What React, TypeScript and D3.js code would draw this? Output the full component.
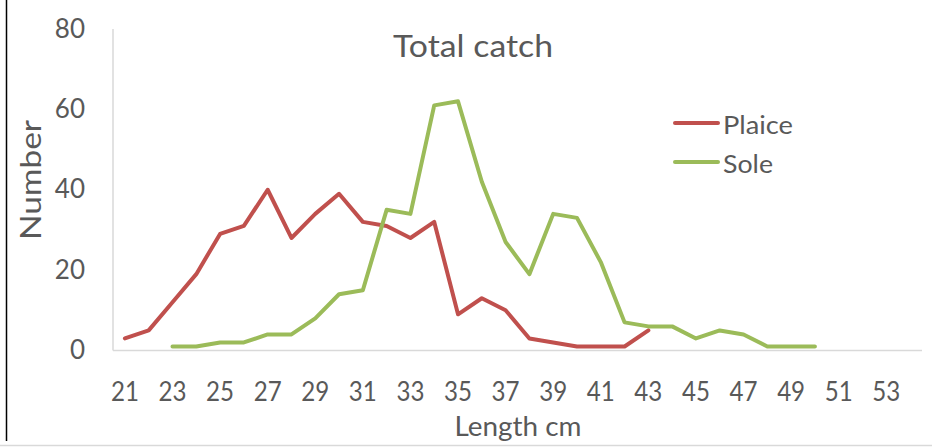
import React, { useEffect, useRef } from 'react';
import * as d3 from 'd3';

const lengths = [21, 22, 23, 24, 25, 26, 27, 28, 29, 30, 31, 32, 33, 34, 35, 36, 37, 38, 39, 40, 41, 42, 43, 44, 45, 46, 47, 48, 49, 50, 51, 52, 53, 54];
const plaiceStart = 21;
const plaice = [3, 5, 12, 19, 29, 31, 40, 28, 34, 39, 32, 31, 28, 32, 9, 13, 10, 3, 2, 1, 1, 1, 5];
const soleStart = 23;
const sole = [1, 1, 2, 2, 4, 4, 8, 14, 15, 35, 34, 61, 62, 42, 27, 19, 34, 33, 22, 7, 6, 6, 3, 5, 4, 1, 1, 1];
const yTicks = [0, 20, 40, 60, 80];

const series = [
  { name: 'Plaice', start: plaiceStart, values: plaice, color: '#c0504d', labelWidth: 70 },
  { name: 'Sole', start: soleStart, values: sole, color: '#9bbb59', labelWidth: 50 },
];

const width = 932;
const height = 448;
const textColor = '#595959';
const font = 'Lato, "Open Sans", sans-serif';

const App: React.FC = () => {
  const svgRef = useRef<SVGSVGElement>(null);

  useEffect(() => {
    if (!svgRef.current) return;
    const svg = d3.select(svgRef.current);
    svg.selectAll('*').remove();

    const plot = { left: 113, right: 922, top: 29, bottom: 350.5 };

    const x = d3.scaleBand<number>()
      .domain(lengths)
      .range([plot.left, plot.right]);
    const cx = (d: number) => (x(d) as number) + x.bandwidth() / 2;

    const y = d3.scaleLinear()
      .domain([0, 80])
      .range([plot.bottom, plot.top]);

    svg.append('rect').attr('width', width).attr('height', height).attr('fill', '#fff');

    // edges of the original screenshot
    svg.append('line')
      .attr('x1', 6.5).attr('x2', 6.5).attr('y1', 0).attr('y2', 441)
      .attr('stroke', '#000').attr('stroke-width', 1.5);
    svg.append('line')
      .attr('x1', 0).attr('x2', width).attr('y1', 445.5).attr('y2', 445.5)
      .attr('stroke', '#d9d9d9').attr('stroke-width', 1.5);

    // axis lines
    svg.append('line')
      .attr('x1', plot.left).attr('x2', plot.left)
      .attr('y1', plot.top).attr('y2', plot.bottom)
      .attr('stroke', '#d9d9d9').attr('stroke-width', 1.5);
    svg.append('line')
      .attr('x1', plot.left).attr('x2', plot.right)
      .attr('y1', plot.bottom).attr('y2', plot.bottom)
      .attr('stroke', '#d9d9d9').attr('stroke-width', 1.5);

    // y tick labels
    svg.append('g')
      .selectAll('text')
      .data(yTicks)
      .enter()
      .append('text')
      .attr('x', 85)
      .attr('y', d => y(d))
      .attr('dy', '0.33em')
      .attr('text-anchor', 'end')
      .attr('font-size', 26)
      .attr('fill', textColor)
      .text(d => d);

    // x tick labels, every other category
    svg.append('g')
      .selectAll('text')
      .data(lengths.filter((_, i) => i % 2 === 0))
      .enter()
      .append('text')
      .attr('x', d => cx(d))
      .attr('y', 401)
      .attr('text-anchor', 'middle')
      .attr('font-size', 27)
      .attr('textLength', 28)
      .attr('lengthAdjust', 'spacingAndGlyphs')
      .attr('fill', textColor)
      .text(d => d);

    // axis titles
    svg.append('text')
      .attr('x', 518)
      .attr('y', 436)
      .attr('text-anchor', 'middle')
      .attr('font-size', 27)
      .attr('textLength', 127)
      .attr('lengthAdjust', 'spacingAndGlyphs')
      .attr('fill', textColor)
      .text('Length cm');

    svg.append('text')
      .attr('transform', 'translate(41,180) rotate(-90)')
      .attr('text-anchor', 'middle')
      .attr('font-size', 28)
      .attr('textLength', 120)
      .attr('lengthAdjust', 'spacingAndGlyphs')
      .attr('fill', textColor)
      .text('Number');

    // title
    svg.append('text')
      .attr('x', 473)
      .attr('y', 57)
      .attr('text-anchor', 'middle')
      .attr('font-size', 31)
      .attr('textLength', 160)
      .attr('lengthAdjust', 'spacingAndGlyphs')
      .attr('fill', textColor)
      .text('Total catch');

    // series lines
    series.forEach(s => {
      const pts = s.values.map((v, i) => [cx(s.start + i), y(v)] as [number, number]);
      svg.append('path')
        .datum(pts)
        .attr('fill', 'none')
        .attr('stroke', s.color)
        .attr('stroke-width', 4)
        .attr('stroke-linejoin', 'round')
        .attr('stroke-linecap', 'round')
        .attr('d', d3.line());
    });

    // legend
    const legend = svg.append('g');
    series.forEach((s, i) => {
      const ly = 123 + i * 39;
      legend.append('line')
        .attr('x1', 675).attr('x2', 718)
        .attr('y1', ly).attr('y2', ly)
        .attr('stroke', s.color)
        .attr('stroke-width', 4)
        .attr('stroke-linecap', 'round');
      legend.append('text')
        .attr('x', 723)
        .attr('y', ly + 10.5)
        .attr('font-size', 25.5)
        .attr('textLength', s.labelWidth)
        .attr('lengthAdjust', 'spacingAndGlyphs')
        .attr('fill', textColor)
        .text(s.name);
    });
  }, []);

  return (
    <div style={{ position: 'absolute', left: 0, top: 0 }}>
      <svg ref={svgRef} width={width} height={height} style={{ display: 'block', fontFamily: font }}></svg>
    </div>
  );
};

export default App;
